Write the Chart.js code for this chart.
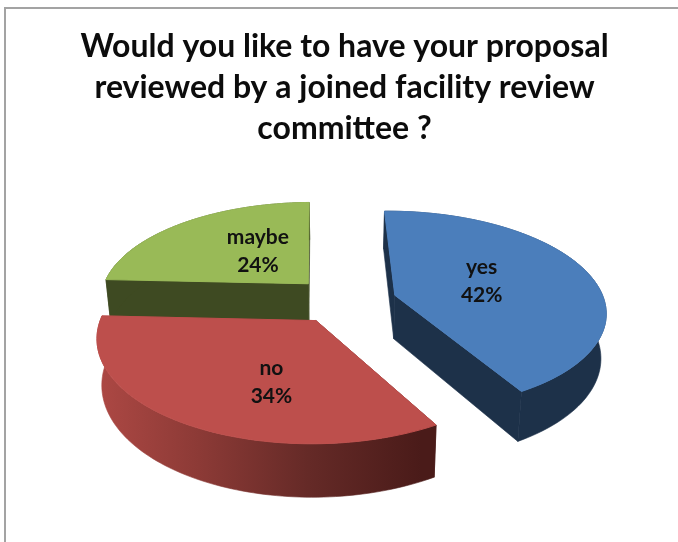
<!DOCTYPE html>
<html>
<head>
<meta charset="utf-8">
<style>
html,body{margin:0;padding:0;background:#fff;overflow:hidden}
#wrap{position:relative;width:678px;height:542px}
#frame{position:absolute;left:4px;top:7px;right:0;bottom:0;border-left:2px solid #a3a3a3;border-top:2px solid #a3a3a3}
canvas{position:absolute;left:0;top:0}
</style>
<script src="https://cdn.jsdelivr.net/npm/chart.js@4"></script>
</head>
<body>
<div id="wrap"><div id="frame"></div><canvas id="c" width="678" height="542"></canvas></div>
<script>
const titleLines = ["Would you like to have your proposal","reviewed by a joined facility review","committee ?"];
const categories = ["yes","no","maybe"];
const shares = [42,34,24];

const topColors = ["#4b7ebb","#bd4f4c","#99ba57"];
const explode = [58,44,52];
const explodeTurn = [0,0,6];
const labelReach = [0.46,0.57,0.46];
const labelTurn = [-4,-13,8.5];
const view = {tilt:0.47, persp:0.15, depth:44, taper:0.98, shiftX:-5, rotation:-1};

function project(el, wx, wy){
  const R = el.outerRadius, s = 1/(1 - view.persp*wy/R);
  return {x: el.x + view.shiftX + wx*s, y: el.y + view.tilt*wy*s, s};
}
function apexOf(el, off, i){
  const mid = (el.startAngle+el.endAngle)/2, dir = mid + explodeTurn[i]*Math.PI/180;
  return {ax: off*Math.cos(dir), ay: off*Math.sin(dir), mid};
}
function rim(el, off, i){
  const R = el.outerRadius, {ax, ay} = apexOf(el, off, i), pts = [], n = 90;
  for(let k=0;k<=n;k++){
    const a = el.startAngle + (el.endAngle-el.startAngle)*k/n;
    pts.push(project(el, ax+R*Math.cos(a), ay+R*Math.sin(a)));
  }
  return pts;
}
function wallFill(ctx, i){
  if(i===1){
    const g = ctx.createLinearGradient(97,0,438,0);
    g.addColorStop(0,"#ad4844");g.addColorStop(0.3,"#8c3a36");g.addColorStop(0.62,"#652a27");g.addColorStop(0.95,"#4a1b19");g.addColorStop(1,"#4a1b19");
    return g;
  }
  return i===0 ? "#1d3149" : "#3e4a22";
}
function poly(ctx, pts){
  ctx.beginPath();
  pts.forEach((p,k)=>k?ctx.lineTo(p.x,p.y):ctx.moveTo(p.x,p.y));
  ctx.closePath();
  ctx.fill();
  ctx.stroke();
}
const pie3d = {
  id:"pie3d",
  beforeDatasetDraw(chart){
    const ctx = chart.ctx, arcs = chart.getDatasetMeta(0).data;
    [2,1,0].forEach(i=>{
      const el = arcs[i], off = el.options.offset;
      const {ax, ay} = apexOf(el, off, i);
      const apex = project(el, ax, ay);
      const arc = rim(el, off, i);
      const cx = el.x + view.shiftX;
      const down = p=>({x:cx+(p.x-cx)*view.taper, y:p.y+view.depth*p.s});
      const first = arc[0], last = arc[arc.length-1];
      ctx.save();
      const wf = wallFill(ctx,i);
      ctx.fillStyle = wf; ctx.strokeStyle = wf; ctx.lineWidth = 0.6;
      poly(ctx,[apex,first,down(first),down(apex)]);
      poly(ctx,[apex,last,down(last),down(apex)]);
      poly(ctx,arc.concat(arc.map(down).reverse()));
      ctx.fillStyle = el.options.backgroundColor;
      ctx.strokeStyle = el.options.backgroundColor;
      ctx.lineWidth = 1;
      poly(ctx,[apex].concat(arc));
      ctx.restore();
    });
    ctx.save();
    ctx.fillStyle="#111";ctx.textAlign="center";ctx.textBaseline="middle";
    ctx.font='bold 21px Lato';
    arcs.forEach((el,i)=>{
      const {ax,ay,mid}=apexOf(el,el.options.offset,i);
      const r=el.outerRadius*labelReach[i], a=mid+labelTurn[i]*Math.PI/180;
      const p=project(el,ax+r*Math.cos(a),ay+r*Math.sin(a));
      ctx.fillText(categories[i],p.x,p.y-14);
      ctx.fillText(shares[i]+"%",p.x,p.y+14);
    });
    ctx.restore();
    return false;
  }
};
new Chart(document.getElementById("c"),{
  type:"pie",
  data:{labels:categories,datasets:[{data:shares,backgroundColor:topColors,offset:explode,borderWidth:0}]},
  options:{
    responsive:false,animation:false,radius:210,rotation:view.rotation,
    layout:{padding:{left:11,top:26,bottom:92}},
    plugins:{
      legend:{display:false},tooltip:{enabled:false},
      title:{display:true,text:titleLines,color:"#0c0c0c",font:{family:"Lato",size:32,weight:"bold",lineHeight:1.28},padding:{top:0,bottom:6}}
    }
  },
  plugins:[pie3d]
});
</script>
</body>
</html>
